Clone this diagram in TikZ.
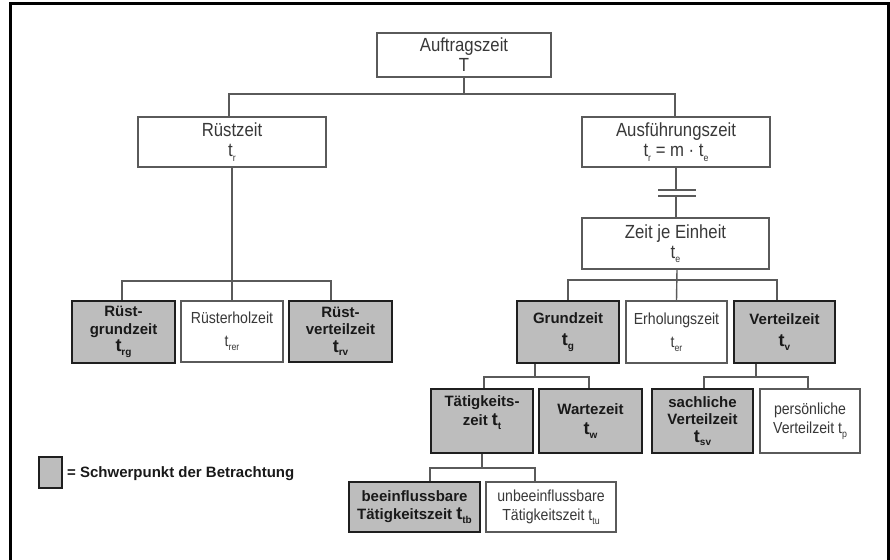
\documentclass[tikz,border=0pt]{standalone}
\usepackage{fontspec}
\setmainfont{Liberation Sans}
% narrow cut for the plain labels
\newfontfamily\narrowface{Liberation Sans}[FakeStretch=0.88]

\newcommand{\topfont}{\narrowface\fontsize{19}{20}\selectfont}
\newcommand{\leaffont}{\narrowface\fontsize{16}{19}\selectfont}
\newcommand{\keyfont}{\fontsize{15}{17.5}\selectfont\bfseries}
\newcommand{\lowix}[1]{\raisebox{-0.45ex}{\fontsize{10}{10}\selectfont #1}}
\newcommand{\bigt}{{\fontsize{18}{18}\selectfont t}}

\definecolor{linegray}{HTML}{5A5A5A}
\definecolor{txtgray}{HTML}{383838}
\definecolor{shade}{HTML}{BDBDBD}

\tikzset{
  plainbox/.style={draw=linegray, line width=1.3pt, fill=white, inner sep=0pt,
    align=center, text=txtgray, font=\leaffont},
  topbox/.style={plainbox, font=\topfont},
  keybox/.style={draw=black!88, line width=2.4pt, fill=shade, inner sep=0pt,
    align=center, text=black!90, font=\keyfont},
  conn/.style={draw=linegray, line width=1.4pt},
  frameline/.style={draw=black, line width=3pt}
}

\begin{document}
\begin{tikzpicture}[x=1pt,y=-1pt]
\useasboundingbox (0,0) rectangle (890,559);
\fill[white] (0,0) rectangle (890,559);

% outer frame, open at the bottom
\draw[frameline] (10,562) -- (10,4) -- (888.5,4) -- (888.5,562);

% heights of the branch lines
\coordinate (lv1) at (0,94);
\coordinate (lv2) at (0,281);
\coordinate (lv3) at (0,280);
\coordinate (lv4) at (0,377);
\coordinate (lv5) at (0,468);
\coordinate (capA) at (676,190);
\coordinate (capB) at (676,196);

% ---------- boxes ----------
\node[topbox, minimum width=174pt, minimum height=44pt] (auf) at (464,55)
  {Auftragszeit\\T};
\node[topbox, minimum width=188pt, minimum height=50pt] (rz) at (232,142)
  {Rüstzeit\\t\lowix{r}};
\node[topbox, minimum width=188pt, minimum height=50pt] (ausf) at (676,142)
  {Ausführungszeit\\t\lowix{r} = m · t\lowix{e}};
\node[topbox, minimum width=187pt, minimum height=51pt] (zje) at (675.5,243.5)
  {Zeit je Einheit\\t\lowix{e}};

\node[keybox, minimum width=103pt, minimum height=62pt] (rgz) at (123.5,332)
  {Rüst-\\grundzeit\\\bigt\lowix{rg}};
\node[plainbox, minimum width=102pt, minimum height=61pt] (rez) at (232,331.5)
  {Rüsterholzeit\\[4pt]t\lowix{rer}};
\node[keybox, minimum width=103pt, minimum height=61pt] (rvz) at (340.5,331.5)
  {Rüst-\\verteilzeit\\\bigt\lowix{rv}};

\node[keybox, minimum width=102pt, minimum height=62pt] (gz) at (568,332)
  {Grundzeit\\[5pt]\bigt\lowix{g}};
\node[plainbox, minimum width=101pt, minimum height=62pt] (ez) at (676.5,332)
  {Erholungszeit\\[4pt]t\lowix{er}};
\node[keybox, minimum width=101pt, minimum height=62pt] (vz) at (784.5,332)
  {Verteilzeit\\[5pt]\bigt\lowix{v}};

\node[keybox, minimum width=102pt, minimum height=64pt] (tz) at (482,421)
  {Tätigkeits-\\[2pt]zeit \bigt\lowix{t}\\[-2pt]\strut};
\node[keybox, minimum width=103pt, minimum height=64pt] (wz) at (590.5,421)
  {Wartezeit\\[3pt]\bigt\lowix{w}};
\node[keybox, minimum width=101pt, minimum height=64pt] (svz) at (702.5,421)
  {sachliche\\Verteilzeit\\\bigt\lowix{sv}};
\node[plainbox, minimum width=100pt, minimum height=64pt] (pvz) at (810,421)
  {persönliche\\Verteilzeit t\lowix{p}};

\node[keybox, minimum width=131pt, minimum height=50pt] (btz) at (414.5,507)
  {beeinflussbare\\[1pt]Tätigkeitszeit \bigt\lowix{tb}};
\node[plainbox, minimum width=130pt, minimum height=50pt] (utz) at (551,507)
  {unbeeinflussbare\\Tätigkeitszeit t\lowix{tu}};

% legend
\node[keybox, line width=2pt, minimum width=23pt, minimum height=31pt] (key) at (50.5,472.5) {};
\node[anchor=west, inner sep=0pt, font=\keyfont, text=black!90] (keytxt) at (67,474)
  {= Schwerpunkt der Betrachtung};

% ---------- connectors ----------
\draw[conn] (auf.south) -- (auf.south |- lv1);
\draw[conn] ([xshift=-3pt]rz.north) |- ([xshift=-1pt]ausf.north |- lv1) -- ([xshift=-1pt]ausf.north);

\draw[conn] (rz.south) -- (rez.north);
\draw[conn] ([xshift=-1.5pt]rgz.north) |- ([xshift=-9.5pt]rvz.north |- lv2) -- ([xshift=-9.5pt]rvz.north);

% double bar between order time and time per unit
\draw[conn] (ausf.south) -- (capA);
\draw[conn] ([xshift=-18pt]capA) -- ([xshift=20pt]capA);
\draw[conn] ([xshift=-18pt]capB) -- ([xshift=20pt]capB);
\draw[conn] (capB) -- (zje.north -| capB);

\draw[conn] ([xshift=1.5pt]zje.south) -- (ez.north);
\draw[conn] (gz.north) |- ([xshift=-7.5pt]vz.north |- lv3) -- ([xshift=-7.5pt]vz.north);

\draw[conn] ([xshift=-33pt]gz.south) -- ([xshift=-33pt]gz.south |- lv4);
\draw[conn] ([xshift=2pt]tz.north) |- ([xshift=-1.5pt]wz.north |- lv4) -- ([xshift=-1.5pt]wz.north);

\draw[conn] ([xshift=-28.5pt]vz.south) -- ([xshift=-28.5pt]vz.south |- lv4);
\draw[conn] ([xshift=1.5pt]svz.north) |- ([xshift=-2pt]pvz.north |- lv4) -- ([xshift=-2pt]pvz.north);

\draw[conn] (tz.south) -- (tz.south |- lv5);
\draw[conn] ([xshift=15.5pt]btz.north) |- ([xshift=-16pt]utz.north |- lv5) -- ([xshift=-16pt]utz.north);
\end{tikzpicture}
\end{document}
